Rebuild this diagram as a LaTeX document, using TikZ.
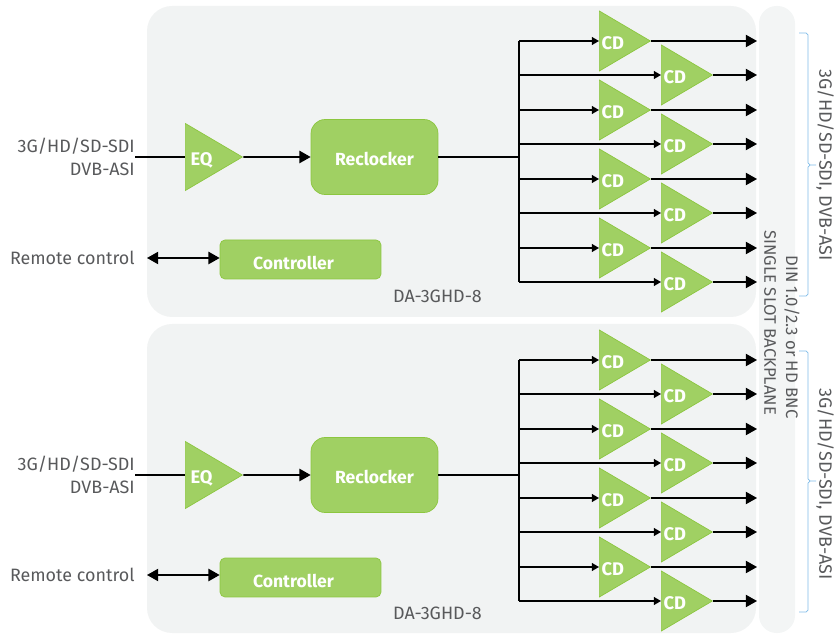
\documentclass[tikz,border=0pt]{standalone}
\usepackage{fontspec}
\setmainfont{Fira Sans}
\usetikzlibrary{arrows.meta,shapes.geometric}
\definecolor{panelgray}{HTML}{F1F3F3}
\definecolor{backgray}{HTML}{F3F5F5}
\definecolor{boxgreen}{HTML}{A0D063}
\definecolor{edgegreen}{HTML}{8CC63F}
\definecolor{textgray}{HTML}{58595B}
\definecolor{braceblue}{HTML}{7FBCE8}
\newcommand{\cdtext}{\rlap{\hspace{-5.8pt}CD}}
\newcommand{\eqtext}{\rlap{\hspace{-5.2pt}EQ}}
\begin{document}
\begin{tikzpicture}[x=0.02cm,y=-0.02cm]
    \tikzstyle{ann} = [text=textgray, inner sep=0, font=\fontsize{10.2}{13.4}\selectfont]
    \tikzstyle{backann} = [ann, rotate=-90, anchor=west, font=\fontsize{9.5}{12}\selectfont]
    \tikzstyle{tri} = [draw=edgegreen, fill=boxgreen, shape=isosceles triangle, isosceles triangle stretches,
        anchor=west, inner sep=0, text=white, text height=9.5pt, text depth=0pt, font=\fontsize{10.4}{12}\selectfont\bfseries]
    \tikzstyle{cd} = [tri, minimum width=1.2cm, minimum height=1.02cm]
    \tikzstyle{eq} = [tri, minimum width=1.34cm, minimum height=1.14cm]
    \tikzstyle{box} = [draw=edgegreen, fill=boxgreen, text=white, text depth=0pt, font=\fontsize{10}{12}\selectfont\bfseries]
    \tikzstyle{recl} = [box, rounded corners=0.28cm, minimum width=2.54cm, minimum height=1.5cm, text height=9.2pt]
    \tikzstyle{cont} = [box, rounded corners=0.1cm, minimum width=3.22cm, minimum height=0.78cm, text height=11pt]
    \tikzstyle{big} = [-{Triangle[length=6.4pt,width=7pt]}, line width=0.9pt]
    \tikzstyle{both} = [{Triangle[length=6.4pt,width=7pt]}-{Triangle[length=6.4pt,width=7pt]}, line width=0.9pt]
    \tikzstyle{small} = [-{Triangle[length=4pt,width=4.4pt]}, line width=0.8pt]
    \useasboundingbox (0,0) rectangle (835,634);
    % panels
    \fill[panelgray, rounded corners=0.5cm] (147,6) rectangle (756,317);
    \fill[panelgray, rounded corners=0.5cm] (147,324) rectangle (756,633);
    \fill[backgray, rounded corners=0.35cm] (759,6) rectangle (795,633);
    % upper board
    \node[ann, align=right, anchor=east] (ina) at (135,157) {3G/HD/SD-SDI\\DVB-ASI};
    \node[ann, anchor=east] (rema) at (135,258) {Remote control};
    \node[eq] (eqa) at (185,157) {\eqtext};
    \node[recl] (recla) at (374.5,157) {Reclocker};
    \node[cont] (conta) at (300.5,259.5) {Controller\kern8pt};
    \node[ann] (daa) at (437.5,296) {DA-3GHD-8};
    \node[cd] (a1) at (599,41) {\cdtext};
    \node[cd] (a2) at (661,75) {\cdtext};
    \node[cd] (a3) at (599,110) {\cdtext};
    \node[cd] (a4) at (661,144) {\cdtext};
    \node[cd] (a5) at (599,179) {\cdtext};
    \node[cd] (a6) at (661,213) {\cdtext};
    \node[cd] (a7) at (599,248) {\cdtext};
    \node[cd] (a8) at (661,282) {\cdtext};
    % lower board
    \node[ann, align=right, anchor=east] (inb) at (135,475) {3G/HD/SD-SDI\\DVB-ASI};
    \node[ann, anchor=east] (remb) at (135,575) {Remote control};
    \node[eq] (eqb) at (185,475) {\eqtext};
    \node[recl] (reclb) at (374.5,475) {Reclocker};
    \node[cont] (contb) at (300.5,577.5) {Controller\kern8pt};
    \node[ann] (dab) at (437.5,613) {DA-3GHD-8};
    \node[cd] (b1) at (599,360) {\cdtext};
    \node[cd] (b2) at (661,394) {\cdtext};
    \node[cd] (b3) at (599,429) {\cdtext};
    \node[cd] (b4) at (661,463) {\cdtext};
    \node[cd] (b5) at (599,498) {\cdtext};
    \node[cd] (b6) at (661,532) {\cdtext};
    \node[cd] (b7) at (599,567) {\cdtext};
    \node[cd] (b8) at (661,601) {\cdtext};
    % side labels
    \node[ann, rotate=-90] (sidea) at (825,165) {3G/HD/SD-SDI, DVB-ASI};
    \node[ann, rotate=-90] (sideb) at (825,484) {3G/HD/SD-SDI, DVB-ASI};
    \node[backann] (back) at (770,230) {SINGLE SLOT BACKPLANE};
    \node[backann] (din) at (792,255) {DIN 1.0/2.3 or HD BNC};
    % braces
    \draw[braceblue] (799,33) -- (806,33) -- (808,35) -- (808,163) -- (810,165) -- (816,165) -- (810,165) -- (808,167) -- (808,294) -- (806,296) -- (799,296);
    \draw[braceblue] (799,351) -- (806,351) -- (808,353) -- (808,479) -- (810,481) -- (816,481) -- (810,481) -- (808,483) -- (808,610) -- (806,612) -- (799,612);
    % connectors
    \coordinate (busa) at (519,157);
    \coordinate (outa) at (757,157);
    \coordinate (busb) at (519,475);
    \coordinate (outb) at (757,475);
    \coordinate (ctla) at (147,258);
    \coordinate (ctlb) at (147,575);
    \draw[line width=0.8pt] (ina.east) -- (eqa.west);
    \draw[line width=0.8pt] (inb.east) -- (eqb.west);
    \draw[big] (eqa.apex) -- (recla.west);
    \draw[big] (eqb.apex) -- (reclb.west);
    \draw[line width=1.4pt] (recla.east) -- (busa);
    \draw[line width=1pt] (reclb.east) -- (busb);
    \draw[both] (ctla) -- (ctla -| conta.west);
    \draw[both] (ctlb) -- (ctlb -| contb.west);
    \draw[line width=1pt] (a1 -| busa) -- (a8 -| busa);
    \draw[line width=1pt] (b1 -| busb) -- (b8 -| busb);
    \foreach \n in {a,b} {
        \foreach \i in {1,...,8} {
            \draw[small] (\n\i.west -| bus\n) -- (\n\i.west);
            \draw[big] (\n\i.apex) -- (\n\i.apex -| out\n);
        }
    }
\end{tikzpicture}
\end{document}
